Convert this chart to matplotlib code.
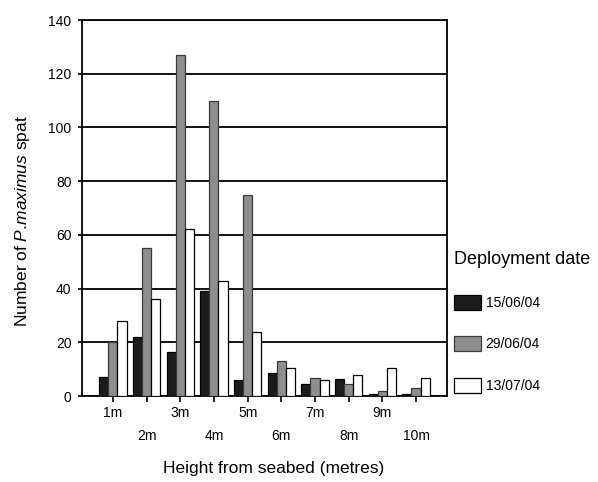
import numpy as np
import matplotlib.pyplot as plt

plt.rcParams["font.family"] = ["Liberation Sans", "DejaVu Sans"]
plt.rcParams["mathtext.fontset"] = "custom"
plt.rcParams["mathtext.rm"] = "Liberation Sans"
plt.rcParams["mathtext.it"] = "Liberation Sans:italic"

# Data
heights = ["1m", "2m", "3m", "4m", "5m", "6m", "7m", "8m", "9m", "10m"]
dates = ["15/06/04", "29/06/04", "13/07/04"]
spat_1506 = [7, 22, 16.5, 39, 6, 8.4, 4.3, 6.2, 0.6, 0.6]
spat_2906 = [20, 55, 127, 110, 75, 13, 6.8, 4.3, 1.9, 2.8]
spat_1307 = [28, 36, 62, 43, 24, 10.3, 5.9, 7.9, 10.3, 6.8]

series = [spat_1506, spat_2906, spat_1307]
colors = ["#1c1c1c", "#8e8e8e", "#ffffff"]
edges = ["#000000", "#3a3a3a", "#000000"]

fig = plt.figure(figsize=(5.98, 4.82), dpi=100)
ax = fig.add_axes([0.137, 0.1784, 0.6105, 0.7801])

x = np.arange(len(heights))
w = 0.27
for i, (vals, c, e, lab) in enumerate(zip(series, colors, edges, dates)):
    ax.bar(x + (i - 1) * w, vals, width=w, color=c, edgecolor=e,
           linewidth=0.9, label=lab, zorder=3)

ax.set_ylim(0, 140)
ax.set_yticks(range(0, 141, 20))
ax.set_xlim(-0.92, 9.92)
ax.yaxis.grid(True, color="black", linewidth=1.3, zorder=0)
ax.set_axisbelow(True)

# alternate the category labels on two rows
ax.set_xticks(x[0::2])
ax.set_xticklabels(heights[0::2])
ax.set_xticks(x[1::2], minor=True)
ax.set_xticklabels(heights[1::2], minor=True)
ax.tick_params(axis="x", which="major", length=4, width=1.2, pad=3, labelsize=10)
ax.tick_params(axis="x", which="minor", length=4, width=1.2, pad=20, labelsize=10)
ax.tick_params(axis="y", length=3, width=1.2, pad=4.5, labelsize=10)

for s in ax.spines.values():
    s.set_linewidth(1.3)

ax.set_xlabel("Height from seabed (metres)", fontsize=12.5)
ax.set_ylabel("Number of $\\mathit{P.\\!maximus}$ spat", fontsize=12.5)
ax.xaxis.set_label_coords(0.526, -0.173)
ax.yaxis.set_label_coords(-0.137, 0.465)

leg = ax.legend(title="Deployment date", loc="upper left",
                bbox_to_anchor=(1.005, 0.40), frameon=False, fontsize=10,
                title_fontsize=13, handlelength=1.95, handleheight=1.3,
                labelspacing=1.9, handletextpad=0.3, borderaxespad=0)
leg._legend_box.align = "left"

fig.savefig("out.png", dpi=100)
